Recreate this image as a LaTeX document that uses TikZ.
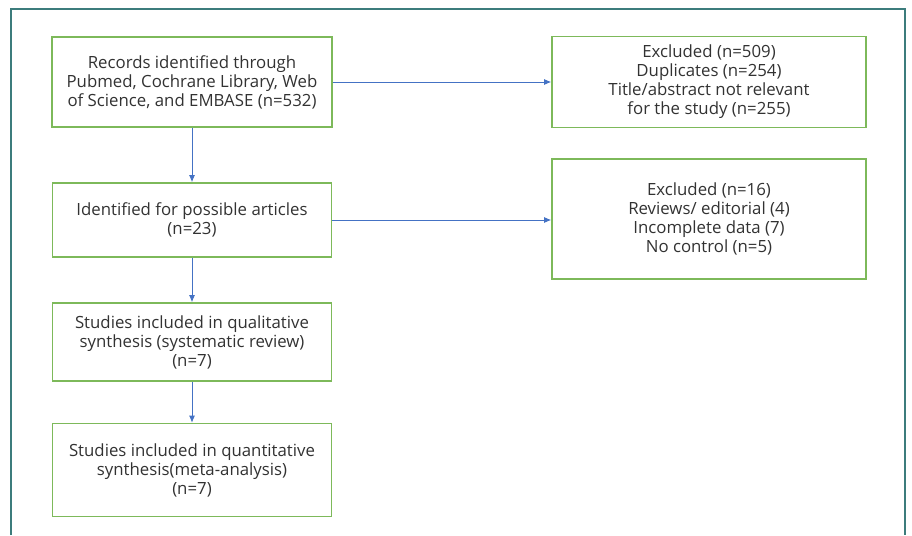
\documentclass[tikz,border=0pt]{standalone}
\usepackage{fontspec}
\setmainfont{Open Sans}
\usepackage{tikz}
\usetikzlibrary{arrows.meta}

\definecolor{boxgreen}{RGB}{125,185,90}
\definecolor{arrowblue}{RGB}{68,114,196}
\definecolor{frameteal}{RGB}{60,124,124}
\definecolor{textgray}{RGB}{50,50,50}

\begin{document}
\begin{tikzpicture}[x=1pt,y=-1pt,
    box/.style={draw=boxgreen,line width=1.6pt,rectangle,align=center,inner sep=0pt,
      font=\fontsize{16.8}{19}\selectfont,text=textgray},
    flow/.style={-{Latex[length=7pt,width=6pt]},draw=arrowblue,line width=0.9pt}]
    \useasboundingbox (0,0) rectangle (912,535);
    \draw[frameteal,line width=2pt] (11,535) -- (11,9) -- (905,9) -- (905,535);

    \draw (192,82) node[box,minimum width=280pt,minimum height=90pt] (records)
      {Records identified through\\Pubmed, Cochrane Library, Web\\of Science, and EMBASE (n=532)};
    \draw (709,82) node[box,minimum width=314pt,minimum height=91pt] (excla)
      {Excluded (n=509)\\Duplicates (n=254)\\Title/abstract not relevant\\for the study (n=255)};
    \draw (192,220) node[box,minimum width=279pt,minimum height=74pt] (possible)
      {Identified for possible articles\\(n=23)};
    \draw (709,219) node[box,minimum width=314pt,minimum height=120pt] (exclb)
      {Excluded (n=16)\\Reviews/ editorial (4)\\Incomplete data (7)\\No control (n=5)};
    \draw (192,342) node[box,minimum width=279pt,minimum height=78pt] (qual)
      {Studies included in qualitative\\synthesis (systematic review)\\(n=7)};
    \draw (192,470) node[box,minimum width=279pt,minimum height=93pt] (quant)
      {Studies included in quantitative\\synthesis(meta-analysis)\\(n=7)};

      \path (records) edge[flow] (possible);
      \path (possible) edge[flow] (qual);
      \path (qual) edge[flow] (quant);
      \path (records.east) edge[flow] (excla.west);
      \path (possible.east) edge[flow] (exclb.west |- possible.east);

\end{tikzpicture}
\end{document}
